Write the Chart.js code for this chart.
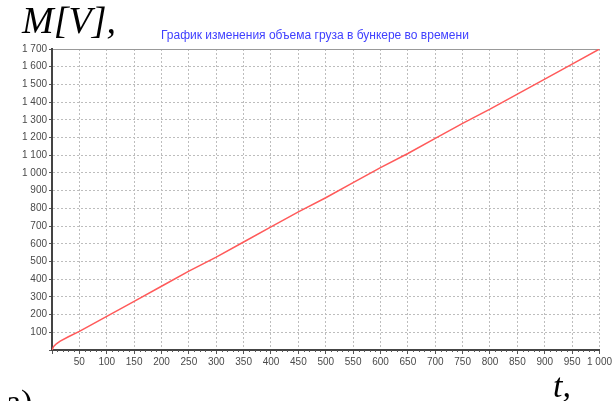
<!DOCTYPE html>
<html>
<head>
<meta charset="utf-8">
<script src="https://cdn.jsdelivr.net/npm/chart.js@4"></script>
<style>
  html, body { margin: 0; padding: 0; background: #fff; overflow: hidden; }
  #wrap { position: relative; width: 614px; height: 401px; }
  #c { position: absolute; left: 0; top: 0; }
  .lbl { position: absolute; white-space: nowrap; font-family: "Liberation Serif", "Times New Roman", serif; font-style: italic; color: #000; line-height: 1; }
  #title { position: absolute; left: 161px; top: 29px; font-family: "Liberation Sans", Arial, sans-serif; font-size: 12px; color: #4040ff; white-space: nowrap; line-height: 1; }
</style>
</head>
<body>
<div id="wrap">
  <canvas id="c" width="614" height="401"></canvas>
  <div class="lbl" style="left:22px; top:1px; font-size:38px;">M[V],</div>
  <div id="title">График изменения объема груза в бункере во времени</div>
  <div class="lbl" style="left:553px; top:369px; font-size:34px;">t,</div>
  <div class="lbl" style="left:6px; top:385px; font-size:34px; font-style:normal;">а)</div>
</div>
<script>
// time, t
const times = [0, 3, 8, 15, 30, 50, 100, 150, 200, 250, 300, 350, 400, 450, 500,
               550, 600, 650, 700, 750, 800, 850, 900, 950, 1000];
// cargo volume in the bunker, M[V]
const volumes = [0, 20, 35, 50, 75, 105, 190, 275, 360, 445, 525, 610, 695, 780, 860,
                 945, 1030, 1110, 1195, 1280, 1360, 1445, 1530, 1615, 1700];
// axis ranges and steps
const xRange = [0, 1000], xStep = 50, xMinorStep = 10;
const yRange = [0, 1700], yStep = 100;

const spaced = v => v === 0 ? '' : String(v).replace(/\B(?=(\d{3})+(?!\d))/g, ' ');

const tickFont = { family: '"Liberation Sans", Arial, sans-serif', size: 10 };
const gridColor = '#bdbdbd';

// small ticks between the labelled ones along the time axis
const minorTicks = {
  id: 'minorTicks',
  afterDraw(chart) {
    const xs = chart.scales.x, area = chart.chartArea, ctx = chart.ctx;
    ctx.save();
    ctx.strokeStyle = '#555';
    ctx.lineWidth = 1;
    ctx.beginPath();
    for (let v = xRange[0] + xMinorStep; v < xRange[1]; v += xMinorStep) {
      if (v % xStep === 0) continue;
      const px = Math.round(xs.getPixelForValue(v)) + 0.5;
      ctx.moveTo(px, area.bottom);
      ctx.lineTo(px, area.bottom + 2);
    }
    ctx.stroke();
    ctx.restore();
  }
};

new Chart(document.getElementById('c'), {
  type: 'line',
  data: {
    datasets: [{
      data: times.map((t, i) => ({ x: t, y: volumes[i] })),
      borderColor: '#ff5a5a',
      borderWidth: 1.5,
      pointRadius: 0,
      tension: 0,
      fill: false
    }]
  },
  options: {
    responsive: false,
    animation: false,
    devicePixelRatio: 1,
    layout: { padding: { top: 49, right: 12, left: 0, bottom: 0 } },
    plugins: { legend: { display: false }, title: { display: false }, tooltip: { enabled: false } },
    scales: {
      x: {
        type: 'linear',
        min: xRange[0], max: xRange[1],
        afterFit(s) { s.height = 51; },
        ticks: { stepSize: xStep, autoSkip: false, maxRotation: 0, color: '#4a4a4a', font: tickFont, padding: 2, callback: spaced },
        grid: { color: gridColor, lineWidth: 1, tickLength: 4, tickColor: '#555', drawOnChartArea: true },
        border: { color: '#444', width: 2, dash: [2, 2] }
      },
      x2: {
        type: 'linear',
        position: 'top',
        min: xRange[0], max: xRange[1],
        afterFit(s) { s.height = 0; },
        ticks: { display: false },
        grid: { display: false, drawTicks: false },
        border: { color: '#999', width: 1 }
      },
      y: {
        min: yRange[0], max: yRange[1],
        afterFit(s) { s.width = 52; },
        ticks: { stepSize: yStep, autoSkip: false, color: '#4a4a4a', font: tickFont, padding: 2, callback: spaced },
        grid: { color: gridColor, lineWidth: 1, tickLength: 3, tickColor: '#555' },
        border: { color: '#444', width: 2, dash: [2, 2] }
      }
    }
  },
  plugins: [minorTicks]
});
</script>
</body>
</html>
